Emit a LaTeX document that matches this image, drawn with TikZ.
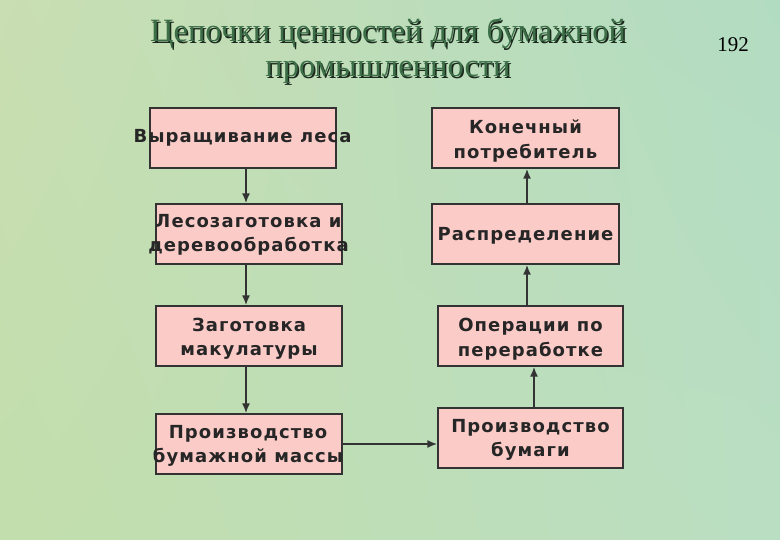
\documentclass[tikz,border=0pt]{standalone}
\usepackage{fontspec}
\setmainfont{Liberation Serif}
\newfontfamily\boxfont[LetterSpace=6]{DejaVu Sans Bold}
\usetikzlibrary{arrows.meta,calc,shadings}
\definecolor{bgA}{HTML}{C9DEB2}
\definecolor{bgB}{HTML}{B2DCC2}
\definecolor{bgC}{HTML}{C2DEAC}
\definecolor{bgD}{HTML}{BADEC2}
\definecolor{boxfill}{HTML}{FBCBC8}
\definecolor{boxline}{HTML}{333333}
\definecolor{txt}{HTML}{262626}
\definecolor{titlegreen}{HTML}{3C6E48}
\definecolor{titleshadow}{HTML}{1C2A1E}
\tikzset{
  stagebox/.style={draw=boxline, fill=boxfill, line width=1.2pt, minimum width=186pt, minimum height=60pt, inner sep=0pt},
  stagetext/.style={font=\boxfont\fontsize{18}{24.5}\selectfont, text=txt, align=center, inner sep=0pt},
  arr/.style={draw=boxline, line width=2pt, -{Latex[length=10pt,width=8pt]}},
  titletext/.style={font=\fontsize{32.5}{35}\selectfont, align=center, inner sep=0pt}
}
\begin{document}
\begin{tikzpicture}[x=1pt,y=-1pt]
\useasboundingbox (0,0) rectangle (780,540);
\shade[upper left=bgA, upper right=bgB, lower left=bgC, lower right=bgD] (0,0) rectangle (780,540);
% title
\node[titletext, text=titleshadow] (titlesh) at (389.5,52.5) {Цепочки ценностей для бумажной\\промышленности};
\node[titletext, text=titlegreen] (title) at (388,51) {Цепочки ценностей для бумажной\\промышленности};
\node[font=\fontsize{21}{24}\selectfont, inner sep=0pt] (pagenum) at (733,45) {192};
% left column boxes
\node[stagebox] (b1) at (243,138) {};
\node[stagebox] (b2) at (249,234) {};
\node[stagebox] (b3) at (249,336) {};
\node[stagebox] (b4) at (249,444) {};
% right column boxes
\node[stagebox, minimum width=187pt] (r1) at (525.5,138) {};
\node[stagebox, minimum width=187pt] (r2) at (525.5,234) {};
\node[stagebox, minimum width=185pt] (r3) at (530.5,336) {};
\node[stagebox, minimum width=185pt] (r4) at (530.5,438) {};
% texts
\node[stagetext] (b1t) at (242.5,138) {Выращивание леса};
\node[stagetext] (b2t) at (248.5,235) {Лесозаготовка и\\деревообработка};
\node[stagetext] (b3t) at (249,339) {Заготовка\\макулатуры};
\node[stagetext] (b4t) at (248,446) {Производство\\бумажной массы};
\node[stagetext] (r1t) at (525.5,141) {Конечный\\потребитель};
\node[stagetext] (r2t) at (525.5,236) {Распределение};
\node[stagetext] (r3t) at (530.5,339) {Операции по\\переработке};
\node[stagetext] (r4t) at (530.5,440) {Производство\\бумаги};
% arrows
\draw[arr] ([xshift=3]b1.south) -- ([xshift=-3]b2.north);
\draw[arr] ([xshift=-3]b2.south) -- ([xshift=-3]b3.north);
\draw[arr] ([xshift=-3]b3.south) -- ([xshift=-3]b4.north);
\draw[arr] (b4.east) -- (b4.east -| r4.west);
\draw[arr] ([xshift=3.5]r4.north) -- ([xshift=3.5]r3.south);
\draw[arr] ([xshift=-3.5]r3.north) -- ([xshift=1.5]r2.south);
\draw[arr] ([xshift=1.5]r2.north) -- ([xshift=1.5]r1.south);
\end{tikzpicture}
\end{document}
